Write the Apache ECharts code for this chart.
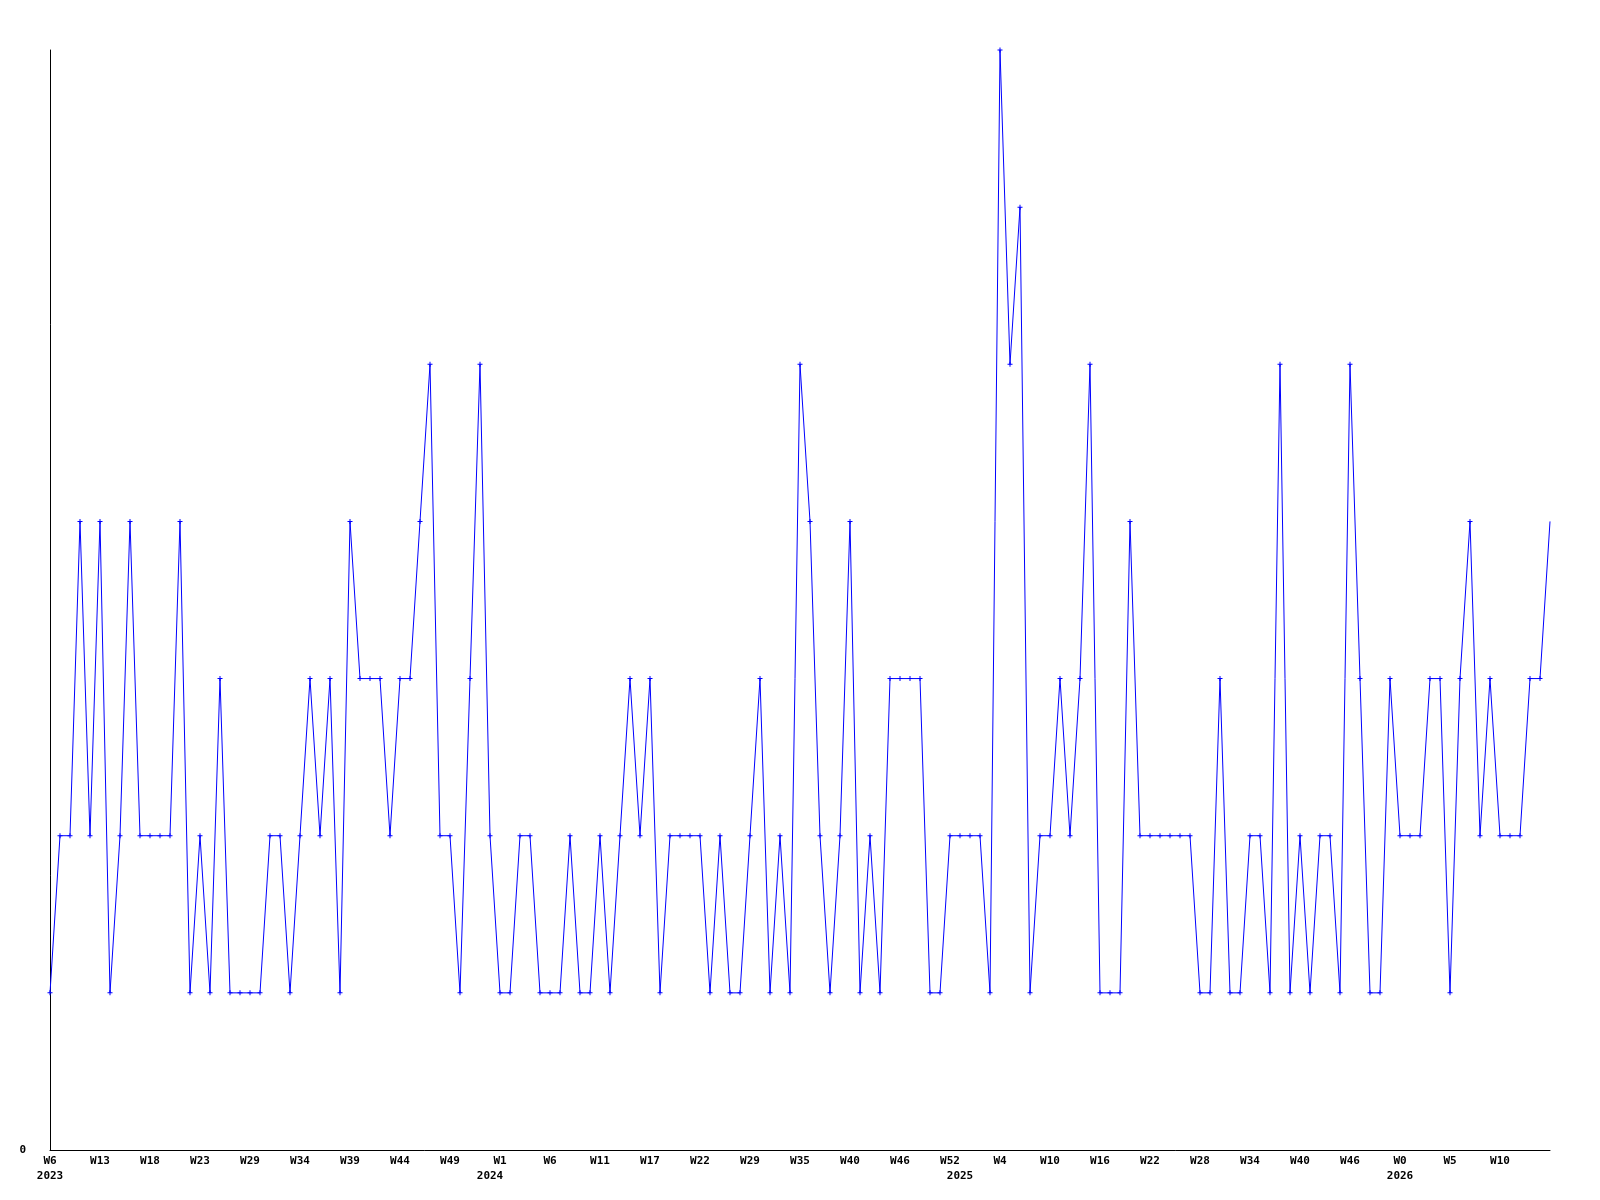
<!DOCTYPE html>
<html>
<head>
<meta charset="utf-8">
<title>weekly chart</title>
<script src="https://cdn.jsdelivr.net/npm/echarts@6/dist/echarts.min.js"></script>
<style>
  html, body { margin: 0; padding: 0; background: #fff; }
  #chart { width: 1600px; height: 1200px; }
</style>
</head>
<body>
<div id="chart"></div>
<script>
// one value per point
const values = [
  1, 2, 2, 4, 2, 4, 1, 2, 4, 2,
  2, 2, 2, 4, 1, 2, 1, 3, 1, 1,
  1, 1, 2, 2, 1, 2, 3, 2, 3, 1,
  4, 3, 3, 3, 2, 3, 3, 4, 5, 2,
  2, 1, 3, 5, 2, 1, 1, 2, 2, 1,
  1, 1, 2, 1, 1, 2, 1, 2, 3, 2,
  3, 1, 2, 2, 2, 2, 1, 2, 1, 1,
  2, 3, 1, 2, 1, 5, 4, 2, 1, 2,
  4, 1, 2, 1, 3, 3, 3, 3, 1, 1,
  2, 2, 2, 2, 1, 7, 5, 6, 1, 2,
  2, 3, 2, 3, 5, 1, 1, 1, 4, 2,
  2, 2, 2, 2, 2, 1, 1, 3, 1, 1,
  2, 2, 1, 5, 1, 2, 1, 2, 2, 1,
  5, 3, 1, 1, 3, 2, 2, 2, 3, 3,
  1, 3, 4, 2, 3, 2, 2, 2, 3, 3,
  4
]

// week labels, one every 5 points
const weekLabels = [
  'W6', 'W13', 'W18', 'W23', 'W29', 'W34', 'W39', 'W44', 'W49', 'W1',
  'W6', 'W11', 'W17', 'W22', 'W29', 'W35', 'W40', 'W46', 'W52', 'W4',
  'W10', 'W16', 'W22', 'W28', 'W34', 'W40', 'W46', 'W0', 'W5', 'W10'
]
const labelStep = 5

// year labels and the point index they sit under
const yearLabels = ['2023', '2024', '2025', '2026']
const yearIndex = [0, 44, 91, 135]

const categories = values.map((v, i) => String(i))

const blue = '#0000ff'
const black = '#000000'
const font = { fontFamily: 'DejaVu Sans Mono', fontWeight: 'bold', fontSize: 11, color: black }
const plus = 'path://M2,0H3V2H5V3H3V5H2V3H0V2H2Z'

const chart = echarts.init(document.getElementById('chart'))

chart.setOption({
  animation: false,
  backgroundColor: '#ffffff',
  grid: { left: 50, right: 50, top: 50, bottom: 50, containLabel: false },
  xAxis: [
    {
      type: 'category',
      data: categories,
      boundaryGap: false,
      axisLine: { show: true, lineStyle: { color: black, width: 1 } },
      axisTick: { show: false },
      splitLine: { show: false },
      axisLabel: {
        ...font,
        margin: 6,
        interval: labelStep - 1,
        formatter: (v, idx) => weekLabels[Math.round(idx / labelStep)] || '',
      },
    },
    {
      type: 'category',
      data: categories,
      boundaryGap: false,
      position: 'bottom',
      offset: 15,
      axisLine: { show: false },
      axisTick: { show: false },
      splitLine: { show: false },
      axisLabel: {
        ...font,
        margin: 6,
        interval: (idx) => yearIndex.includes(idx),
        formatter: (v, idx) => yearLabels[yearIndex.indexOf(idx)] || '',
      },
    },
  ],
  yAxis: {
    type: 'value',
    min: 0,
    max: 7,
    interval: 7,
    axisLine: { show: true, lineStyle: { color: black, width: 1 } },
    axisTick: { show: false },
    splitLine: { show: false },
    axisLabel: {
      ...font,
      margin: 24,
      formatter: v => (v === 0 ? '0' : ''),
    },
  },
  series: [
    {
      type: 'line',
      xAxisIndex: 0,
      data: values.map((v, i) => (i === values.length - 1 ? { value: v, symbol: 'none' } : v)),
      symbol: plus,
      symbolSize: 5,
      showAllSymbol: true,
      lineStyle: { color: blue, width: 1 },
      itemStyle: { color: blue, borderWidth: 0 },
      emphasis: { disabled: true },
    },
  ],
})
</script>
</body>
</html>
